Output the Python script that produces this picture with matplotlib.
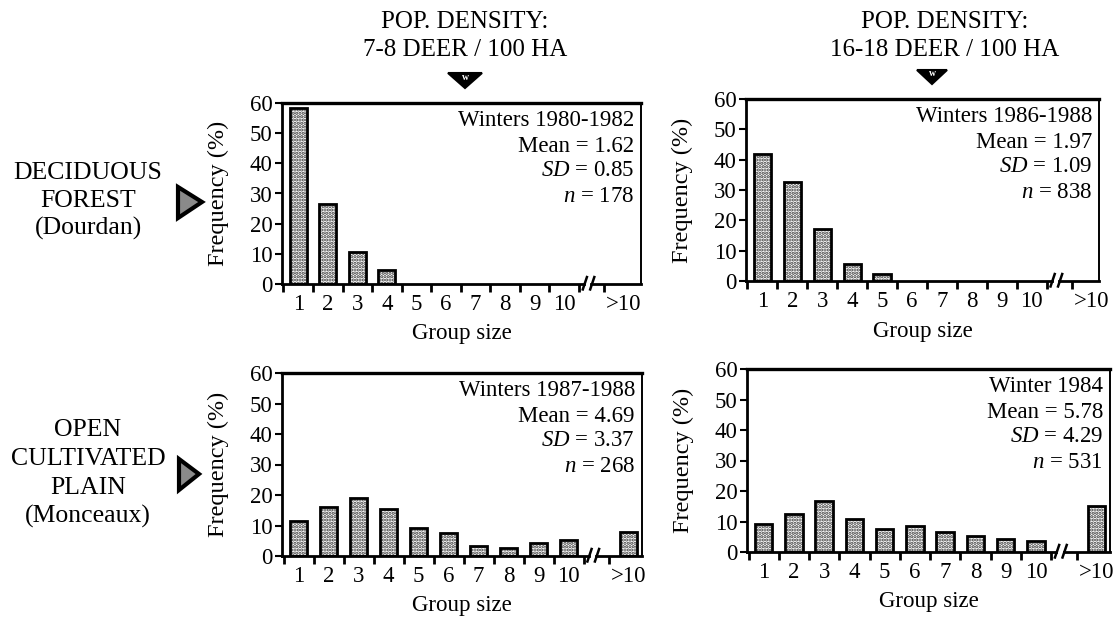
import matplotlib
matplotlib.use("Agg")
import matplotlib.pyplot as plt
from matplotlib.patches import Polygon
from matplotlib.lines import Line2D

plt.rcParams['font.family'] = ['Liberation Serif', 'DejaVu Serif']
plt.rcParams['mathtext.fontset'] = 'custom'
plt.rcParams['mathtext.rm'] = 'Liberation Serif'
plt.rcParams['mathtext.it'] = 'Liberation Serif:italic'
plt.rcParams['hatch.linewidth'] = 1.6

# ---------------- data ----------------
categories = ['1', '2', '3', '4', '5', '6', '7', '8', '9', '10', '>10']
freq_forest_low = [58.5, 26.5, 10.5, 4.5, 0, 0, 0, 0, 0, 0, 0]
freq_forest_high = [41.8, 32.7, 17.0, 5.6, 2.4, 0, 0, 0, 0, 0, 0]
freq_plain_low = [11.5, 16.1, 18.9, 15.4, 9.3, 7.7, 3.3, 2.5, 4.4, 5.2, 7.8]
freq_plain_high = [9.1, 12.6, 16.8, 10.9, 7.6, 8.6, 6.7, 5.2, 4.4, 3.5, 15.1]

stats_forest_low = ["Winters 1980-1982", "Mean = 1.62", r"$\mathit{SD}$ = 0.85", r"$\mathit{n}$ = 178"]
stats_forest_high = ["Winters 1986-1988", "Mean = 1.97", r"$\mathit{SD}$ = 1.09", r"$\mathit{n}$ = 838"]
stats_plain_low = ["Winters 1987-1988", "Mean = 4.69", r"$\mathit{SD}$ = 3.37", r"$\mathit{n}$ = 268"]
stats_plain_high = ["Winter 1984", "Mean = 5.78", r"$\mathit{SD}$ = 4.29", r"$\mathit{n}$ = 531"]

density_titles = ["POP. DENSITY:\n7-8 DEER / 100 HA", "POP. DENSITY:\n16-18 DEER / 100 HA"]
habitat_forest = ["DECIDUOUS", "FOREST", "(Dourdan)"]
habitat_plain = ["OPEN", "CULTIVATED", "PLAIN", "(Monceaux)"]
yticks = [0, 10, 20, 30, 40, 50, 60]

# ---------------- layout ----------------
W, H = 1120, 623
fig = plt.figure(figsize=(W / 100, H / 100), dpi=100)
fig.patch.set_facecolor('white')


def fx(x):
    return x / W


def fy(y):
    return 1 - y / H


def rect(l, r, t, b):
    return [fx(l), fy(b), (r - l) / W, (b - t) / H]


xpos = [1, 2, 3, 4, 5, 6, 7, 8, 9, 10, 12]
panels = [
    (rect(282, 641, 103, 284), freq_forest_low, stats_forest_low, 12.6),
    (rect(746, 1099, 99, 281), freq_forest_high, stats_forest_high, 12.25),
    (rect(282, 642, 373, 556), freq_plain_low, stats_plain_low, 12.45),
    (rect(747, 1110, 369, 552), freq_plain_high, stats_plain_high, 12.45),
]

FS = 16.5
for (r, freq, stats, xmax) in panels:
    ax = fig.add_axes(r)
    wpx = r[2] * W
    hpx = r[3] * H
    xmin = 0.45
    ax.set_xlim(xmin, xmax)
    ax.set_ylim(0, 60)
    xs = [x for x, v in zip(xpos, freq) if v > 0]
    vs = [v for v in freq if v > 0]
    ax.bar(xs, vs, width=0.58, facecolor='white', edgecolor='#3a3a3a',
           hatch='.....', linewidth=0, zorder=2)
    ax.bar(xs, vs, width=0.58, facecolor='none', edgecolor='black',
           linewidth=2.0, zorder=3)

    # spines
    ax.spines['top'].set_linewidth(2.4)
    ax.spines['left'].set_linewidth(2.0)
    ax.spines['right'].set_linewidth(1.4)
    ax.spines['bottom'].set_visible(False)
    # x axis line with break
    ax.plot([xmin, 10.68], [0, 0], color='black', lw=2.0, clip_on=False, zorder=4)
    ax.plot([10.92, xmax], [0, 0], color='black', lw=2.0, clip_on=False, zorder=4)
    for bx in (10.7, 10.95):
        ax.add_line(Line2D([bx - 0.07, bx + 0.07], [-1.8, 2.3], color='black',
                           lw=1.8, clip_on=False, zorder=5))

    # y ticks
    ax.set_yticks(yticks)
    ax.tick_params(axis='y', direction='out', length=5, width=1.5, pad=2,
                   labelsize=FS)
    # x ticks: labels at centers, marks at bin edges
    ax.set_xticks(xpos)
    ax.set_xticklabels(categories)
    ax.tick_params(axis='x', which='major', length=0, pad=7, labelsize=FS)
    ax.set_xticks([e + 0.5 for e in range(0, 11)] + [11.35], minor=True)
    ax.tick_params(axis='x', which='minor', direction='out', length=6, width=2.0)

    ax.set_ylabel("Frequency (%)", fontsize=17.5)
    ax.yaxis.set_label_coords(-53 / wpx, 0.5)
    ax.text(0.5, -50 / hpx, "Group size", transform=ax.transAxes,
            ha='center', va='center', fontsize=FS)

    offs = [18, 43, 68, 93]
    for s, o in zip(stats, offs):
        ax.text(1 - 7 / wpx, 1 - o / hpx, s, transform=ax.transAxes,
                ha='right', va='center', fontsize=FS)

# column titles
fig.text(fx(465), fy(36), density_titles[0], ha='center', va='center',
         fontsize=18, linespacing=1.4)
fig.text(fx(945), fy(36), density_titles[1], ha='center', va='center',
         fontsize=18, linespacing=1.4)


def tri(pts, face, edge, lw=1.5, hatch=None):
    p = Polygon([(fx(x), fy(y)) for x, y in pts], closed=True,
                transform=fig.transFigure, facecolor=face, edgecolor=edge,
                linewidth=lw, figure=fig, hatch=hatch)
    fig.patches.append(p)


# downward triangles under titles
tri([(448, 73), (482, 73), (465, 88)], 'black', 'black')
tri([(917, 70), (947, 70), (932, 84)], 'black', 'black')
for (cx, cy) in [(465, 77), (932, 74)]:
    fig.text(fx(cx), fy(cy), "w", ha='center', va='center', fontsize=7,
             color='white', fontweight='bold')

# right-pointing triangles next to habitat names
tri([(178, 187), (178, 218), (202, 202)], '#8a8a8a', 'black', 3.0)
tri([(179, 459), (179, 490), (199, 474)], '#8a8a8a', 'black', 3.0)

# habitat labels
for s, y in zip(habitat_forest, [173, 201, 228]):
    fig.text(fx(88), fy(y), s, ha='center', va='center', fontsize=18.5)
for s, y in zip(habitat_plain, [430, 459, 488, 516]):
    fig.text(fx(88), fy(y), s, ha='center', va='center', fontsize=18.5)

fig.savefig("out.png", dpi=100, facecolor='white')
